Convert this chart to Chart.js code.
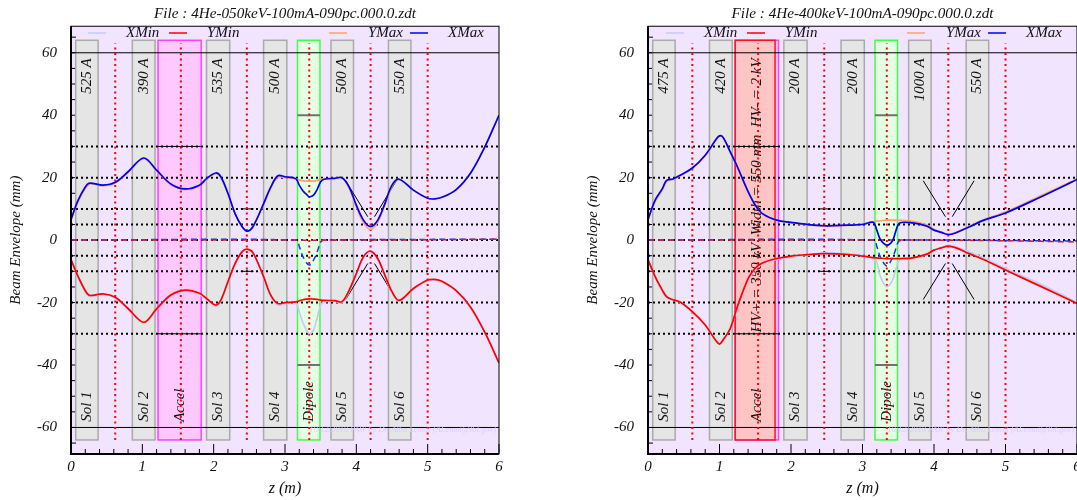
<!DOCTYPE html>
<html>
<head>
<meta charset="utf-8">
<title>Beam envelope</title>
<style>
  html, body { margin: 0; padding: 0; width: 1077px; height: 500px; overflow: hidden; background: #fff; }
  canvas { position: absolute; top: 0; }
  #leftChart { left: 0; }
  #rightChart { left: 577px; }
</style>
<script src="https://cdn.jsdelivr.net/npm/chart.js@4"></script>
</head>
<body>
<canvas id="leftChart" width="570" height="500"></canvas>
<canvas id="rightChart" width="571" height="500"></canvas>
<script>
// z grid + envelopes, mm
const leftZ = [0,0.1,0.2,0.25,0.3,0.45,0.62,0.8,1.02,1.2,1.4,1.6,1.8,1.9,2.03,2.1,2.2,2.3,2.4,2.47,2.55,2.7,2.8,2.9,3.0,3.15,3.2,3.25,3.3,3.34,3.4,3.45,3.5,3.55,3.7,3.8,3.9,4.0,4.1,4.2,4.3,4.4,4.5,4.6,4.8,5.0,5.1,5.2,5.4,5.6,5.8,6];
const leftXMax = [6.6,12.8,17,18.2,18.2,17.6,18.5,21.9,26.3,22.4,18,16.4,17.6,19.7,21.5,20.3,15,8.5,4.3,2.9,4.3,11.7,17,20.6,20.3,19.7,17.6,15.8,14.7,13.9,14.4,16.2,18.7,19.5,19.8,20,17,11.2,6.4,4.3,6.4,11.7,17.6,19.5,16,13.4,13.2,13.7,16.2,21.4,29.8,40];
const leftYMax = [6.4,12.3,16.5,17.8,18,17.4,18.3,21.7,26.1,22.2,17.8,16.2,17.4,19.5,21.3,20,14.8,8.4,4.2,2.9,4.4,11.4,16.7,20.2,20,19.6,19.2,19,18.9,18.9,18.9,19.1,19.5,19.6,19.8,20,16.6,10.6,5.6,3.4,5.8,11.2,17.2,19.4,16,13.4,13.2,13.7,16.2,21.4,29.8,40];
const leftYMin = [-6.2,-11.7,-16.2,-17.6,-17.7,-17.2,-18.3,-21.9,-26.3,-22,-17.6,-16,-17,-18.7,-20.8,-19.2,-13.3,-7.5,-3.7,-2.9,-4,-11.7,-17.6,-20.3,-20,-19.8,-19.4,-19.1,-18.9,-18.8,-18.9,-19,-19.2,-19.3,-19.4,-19.7,-16,-10.7,-5.3,-3.5,-5.9,-11.2,-16.5,-19.3,-15.5,-12.8,-12.6,-13.2,-16.2,-21.4,-29.5,-39.3];
const leftXMin = [-6.2,-11.9,-16.6,-18,-18,-17.4,-18.5,-22.1,-26.4,-22.2,-17.8,-16.3,-17.3,-19.1,-21.3,-19.6,-13.5,-7.6,-3.8,-3,-4.1,-12,-18,-20.8,-20.4,-20,-23,-26.4,-28.8,-29.9,-28.8,-25,-20.8,-19.8,-19.6,-20,-16.4,-11,-5.8,-4,-6.2,-11.6,-16.9,-19.5,-15.7,-13,-12.8,-13.4,-16.3,-21.5,-29.6,-39.4];

const rightZ = [0,0.1,0.2,0.26,0.35,0.45,0.62,0.8,0.95,1.0,1.05,1.15,1.25,1.4,1.5,1.6,1.8,2.0,2.2,2.47,2.8,3.0,3.15,3.2,3.25,3.34,3.42,3.47,3.52,3.7,3.9,4.0,4.1,4.2,4.3,4.5,4.7,5.0,5.5,6];
const rightXMax = [6.6,12.8,16.5,19.1,19.6,20.8,23.1,27.2,32.2,33.4,32.9,28.3,23.5,15.5,11.2,8.5,6.4,5.7,5.1,4.6,4.8,5,5.7,3.2,0.2,-1.6,-0.2,3.2,5.5,5.5,4.5,3.2,2.5,1.8,2.3,4.3,6.4,8.7,13.9,19.4];
const rightYMax = [6.4,12.4,16,18.8,19.4,20.6,23,27,32.1,33.3,32.8,28.2,23.4,15.5,11.2,8.5,6.4,5.6,5,4.5,4.8,5.1,5.9,6.1,6.2,6.4,6.4,6.4,6.3,6,4.8,3.5,2.6,1.9,2.4,4.5,6.6,9,14.3,19.6];
const rightYMin = [-6.2,-11.7,-16,-18.1,-19.1,-19.8,-22.9,-27.2,-32.2,-33.3,-32,-28.3,-21.3,-12.3,-9,-7.3,-5.9,-5.1,-4.7,-4.3,-4.6,-5.1,-5.6,-5.7,-5.8,-5.9,-5.9,-5.9,-5.9,-5.7,-4.5,-3.2,-2.5,-1.9,-2.4,-4.4,-6.3,-9.6,-14.9,-20.3];
const rightXMin = [-6.2,-11.9,-16.4,-18.4,-19.2,-19.9,-23,-27.2,-32.2,-33.3,-32,-28.3,-21.5,-12.6,-9.3,-7.6,-6.2,-5.4,-4.9,-4.1,-4.4,-5,-5.8,-7,-11.7,-14.9,-12.8,-9,-6.4,-5.9,-4.6,-3.2,-2.4,-1.7,-2.1,-3.9,-5.8,-9.1,-14.2,-20];

// beam centroid, dashed
const centerXZ = [0,3.16,3.2,3.25,3.34,3.42,3.47,3.5,3.55,6];
const leftCenterX = [0,0,-2,-5.2,-8,-5.5,-2.5,-0.6,0,0.3];
const rightCenterX = [0,0,-2,-5.4,-8.3,-5.6,-2.6,-0.6,0,-0.3];
const centerYZ = [0,3,4,5,6];
const leftCenterY = [0,0,0,0.1,0.3];
const rightCenterY = [0,0,0,-0.2,-0.6];

// elements along the beam line (z in m)
const solStart = [0.066,0.86,1.9,2.7,3.645,4.45];
const solEnd = [0.38,1.178,2.225,3.025,3.96,4.765];
const solNames = ['Sol 1','Sol 2','Sol 3','Sol 4','Sol 5','Sol 6'];
const leftCurrents = ['525 A','390 A','535 A','500 A','500 A','550 A'];
const rightCurrents = ['475 A','420 A','200 A','200 A','1000 A','550 A'];
const accelStart = 1.22, accelEnd = 1.825, rightGapEnd = 1.777;
const dipoleStart = 3.175, dipoleEnd = 3.49;
const boxHalf = 64;

const dotZ = [0.62,1.54,2.465,3.34,4.2,5.0];
const solidLevels = [60,-60];
const dottedLevels = [30,20,10,5,0,-5,-10,-20,-30];
const markLevels = [30,-30];
const gapLevels = [10,-10];
const dipoleLevels = [40,-40];
const vZ = [3.85,4.16,4.255,4.56];
const vY = 19, vYInner = 7.5;

const xTicks = [0,1,2,3,4,5,6];
const xMinorTicks = [0.2,0.4,0.6,0.8,1.2,1.4,1.6,1.8,2.2,2.4,2.6,2.8,3.2,3.4,3.6,3.8,4.2,4.4,4.6,4.8,5.2,5.4,5.6,5.8];
const yTicks = [60,40,20,0,-20,-40,-60];
const yMinorTicks = [65,55,50,45,35,30,25,15,10,5,-5,-10,-15,-25,-30,-35,-45,-50,-55,-65];

const LEVEL_FONT = 'italic 15px "Liberation Serif"';
const COL_XMIN = '#c8c8fa', COL_YMIN = '#ff0000', COL_YMAX = '#ffa070', COL_XMAX = '#0000f0';

const toPoints = (zs, ys) => zs.map((z, i) => ({ x: z, y: ys[i] }));

function curve(zs, ys, color) {
    return { data: toPoints(zs, ys), borderColor: color, borderWidth: 1.7, pointRadius: 0, tension: 0.35, fill: false };
}

function straight(points, color, width, dash) {
    return { data: points, borderColor: color, borderWidth: width, borderDash: dash || [], pointRadius: 0, fill: false };
}

function refLines() {
    const lines = [];
    dotZ.forEach(z => lines.push(straight([{ x: z, y: -boxHalf }, { x: z, y: 63 }], '#ff0000', 2, [2, 3.5])));
    dottedLevels.forEach(v => lines.push(straight([{ x: 0, y: v }, { x: 6, y: v }], '#000', 2, [2, 3])));
    solidLevels.forEach(v => lines.push(straight([{ x: 0, y: v }, { x: 6, y: v }], '#000', 1)));
    markLevels.forEach(v => lines.push(straight([{ x: accelStart, y: v }, { x: accelEnd, y: v }], '#000', 1)));
    gapLevels.forEach(v => lines.push(straight([{ x: 2.38, y: v }, { x: 2.56, y: v }], '#000', 1)));
    dipoleLevels.forEach(v => lines.push(straight([{ x: dipoleStart, y: v }, { x: dipoleEnd, y: v }], '#707070', 2)));
    [1, -1].forEach(s => {
        lines.push(straight([{ x: vZ[0], y: s * vY }, { x: vZ[1], y: s * vYInner }], '#000', 1));
        lines.push(straight([{ x: vZ[3], y: s * vY }, { x: vZ[2], y: s * vYInner }], '#000', 1));
    });
    return lines;
}

function rect(ctx, c, z0, z1, fill, stroke) {
    const x = c.scales.x, y = c.scales.y;
    const l = x.getPixelForValue(z0), r = x.getPixelForValue(z1);
    const t = y.getPixelForValue(boxHalf), b = y.getPixelForValue(-boxHalf);
    ctx.fillStyle = fill;
    ctx.strokeStyle = stroke;
    ctx.lineWidth = 1.5;
    ctx.fillRect(l, t, r - l, b - t);
    ctx.strokeRect(l, t, r - l, b - t);
}

function upText(ctx, c, txt, z, v, align) {
    ctx.save();
    ctx.translate(c.scales.x.getPixelForValue(z), c.scales.y.getPixelForValue(v));
    ctx.rotate(-Math.PI / 2);
    ctx.font = LEVEL_FONT;
    ctx.fillStyle = '#111';
    ctx.textAlign = align;
    ctx.textBaseline = 'middle';
    ctx.fillText(txt, 0, 0);
    ctx.restore();
}

function tickMarks(ctx, c) {
    const a = c.chartArea, x = c.scales.x, y = c.scales.y;
    ctx.strokeStyle = '#000';
    ctx.lineWidth = 1;
    ctx.beginPath();
    xTicks.forEach(v => { const p = x.getPixelForValue(v); ctx.moveTo(p, a.bottom); ctx.lineTo(p, a.bottom - 10); });
    xMinorTicks.forEach(v => { const p = x.getPixelForValue(v); ctx.moveTo(p, a.bottom); ctx.lineTo(p, a.bottom - 5); });
    yTicks.forEach(v => { const p = y.getPixelForValue(v); ctx.moveTo(a.left, p); ctx.lineTo(a.left + 10, p); });
    yMinorTicks.forEach(v => { const p = y.getPixelForValue(v); ctx.moveTo(a.left, p); ctx.lineTo(a.left + 5, p); });
    ctx.stroke();
}

function keyEntries(ctx, c, shift) {
    const a = c.chartArea;
    const entries = [
        ['XMin', COL_XMIN, 17, 55],
        ['YMin', COL_YMIN, 98, 136],
        ['YMax', COL_YMAX, 258, 297],
        ['XMax', COL_XMAX, 339, 377]
    ];
    ctx.font = LEVEL_FONT;
    ctx.textAlign = 'left';
    ctx.textBaseline = 'middle';
    entries.forEach(e => {
        ctx.strokeStyle = e[1];
        ctx.lineWidth = 1.5;
        ctx.beginPath();
        ctx.moveTo(a.left + e[2] + shift, 33);
        ctx.lineTo(a.left + e[2] + shift + 18, 33);
        ctx.stroke();
        ctx.fillStyle = '#111';
        ctx.fillText(e[0], a.left + e[3] + shift, 33);
    });
}

const panelDecor = {
    id: 'panelDecor',
    beforeDatasetsDraw(c, args, opts) {
        const ctx = c.ctx, a = c.chartArea;
        ctx.save();
        ctx.fillStyle = '#f1e4ff';
        ctx.fillRect(a.left, a.top, a.width, a.height);
        tickMarks(ctx, c);
        solStart.forEach((z, i) => rect(ctx, c, z, solEnd[i], '#e5e5e5', '#aaaaaa'));
        rect(ctx, c, accelStart, accelEnd, '#ffc8ff', '#ff40ff');
        if (opts.accelRed) rect(ctx, c, accelStart, rightGapEnd, '#ffc4c4', '#ff1020');
        rect(ctx, c, dipoleStart, dipoleEnd, '#e5ffe5', '#40ff40');
        solStart.forEach((z, i) => {
            const mid = (z + solEnd[i]) / 2;
            upText(ctx, c, opts.currents[i], mid, 58.2, 'right');
            upText(ctx, c, solNames[i], mid, -58.2, 'left');
        });
        upText(ctx, c, 'Accel', 1.53, -58.2, 'left');
        upText(ctx, c, 'Dipole', 3.34, -58.2, 'left');
        if (opts.hvNote) upText(ctx, c, opts.hvNote, 1.53, 58.2, 'right');
        ctx.restore();
    },
    afterDraw(c, args, opts) {
        const ctx = c.ctx, a = c.chartArea;
        ctx.save();
        ctx.font = 'italic 8.5px "Liberation Serif"';
        ctx.fillStyle = '#d8ceff';
        ctx.textAlign = 'right';
        ctx.textBaseline = 'alphabetic';
        ctx.fillText('10/12/2010 PAW by Dr. Alba Lemut (ALemut@lbl.gov)', a.right - 3, 432);
        keyEntries(ctx, c, opts.keyShift);
        ctx.strokeStyle = '#000';
        ctx.lineWidth = 1;
        ctx.strokeRect(a.left, a.top, a.width, a.height);
        ctx.lineWidth = 2;
        ctx.beginPath();
        ctx.moveTo(a.left, a.top);
        ctx.lineTo(a.left, a.bottom);
        ctx.lineTo(a.right, a.bottom);
        ctx.stroke();
        ctx.restore();
    }
};

function makePanel(canvasId, p) {
    const serif = { family: '"Liberation Serif"', size: 15, style: 'italic' };
    return new Chart(document.getElementById(canvasId), {
        type: 'line',
        data: {
            datasets: [
                curve(p.z, p.xMax, COL_XMAX),
                curve(p.z, p.yMax, COL_YMAX),
                curve(p.z, p.yMin, COL_YMIN),
                curve(p.z, p.xMin, COL_XMIN),
                Object.assign(curve(centerYZ, p.centerY, '#c02050'), { borderDash: [6, 4], borderWidth: 1.5 }),
                Object.assign(curve(centerXZ, p.centerX, '#2030f0'), { borderDash: [6, 4], borderWidth: 1.5 })
            ].concat(refLines())
        },
        options: {
            responsive: false,
            animation: false,
            layout: { padding: { right: 71 } },
            plugins: {
                legend: { display: false },
                tooltip: { enabled: false },
                title: { display: true, fullSize: false, text: p.title, color: '#111', font: { family: '"Liberation Serif"', size: 15.2, style: 'italic', weight: 'normal' }, padding: { top: 5, bottom: 3 } },
                panelDecor: { currents: p.currents, accelRed: p.accelRed, hvNote: p.hvNote, keyShift: p.keyShift }
            },
            scales: {
                x: {
                    type: 'linear', min: 0, max: 6,
                    grid: { display: false, drawTicks: false }, border: { display: false },
                    title: { display: true, text: 'z (m)', color: '#111', font: { family: '"Liberation Serif"', size: 16, style: 'italic' }, padding: { top: 0, bottom: 2 } },
                    ticks: { color: '#111', font: serif, padding: 4, autoSkip: false, maxRotation: 0 },
                    afterBuildTicks: s => { s.ticks = xTicks.map(v => ({ value: v })); },
                    afterFit: s => { s.height = 46; s.paddingLeft = 0; s.paddingRight = 0; }
                },
                y: {
                    min: -68.5, max: 68.5,
                    grid: { display: false, drawTicks: false }, border: { display: false },
                    title: { display: true, text: 'Beam Envelope (mm)', color: '#111', font: { family: '"Liberation Serif"', size: 15, style: 'italic' }, padding: { top: 7, bottom: 0 } },
                    ticks: { color: '#111', font: serif, padding: 14, autoSkip: false },
                    afterBuildTicks: s => { s.ticks = yTicks.map(v => ({ value: v })); },
                    afterFit: s => { s.width = 71; s.paddingTop = 0; s.paddingBottom = 0; }
                }
            }
        },
        plugins: [panelDecor]
    });
}

makePanel('leftChart', {
    title: 'File : 4He-050keV-100mA-090pc.000.0.zdt',
    z: leftZ, xMax: leftXMax, yMax: leftYMax, yMin: leftYMin, xMin: leftXMin,
    centerX: leftCenterX, centerY: leftCenterY,
    currents: leftCurrents, accelRed: false, hvNote: '', keyShift: 0
});

makePanel('rightChart', {
    title: 'File : 4He-400keV-100mA-090pc.000.0.zdt',
    z: rightZ, xMax: rightXMax, yMax: rightYMax, yMin: rightYMin, xMin: rightXMin,
    centerX: rightCenterX, centerY: rightCenterY,
    currents: rightCurrents, accelRed: true, hvNote: 'HV+ = 350 kV  Width = 550 mm  HV- = 2 kV', keyShift: 1
});
</script>
</body>
</html>
